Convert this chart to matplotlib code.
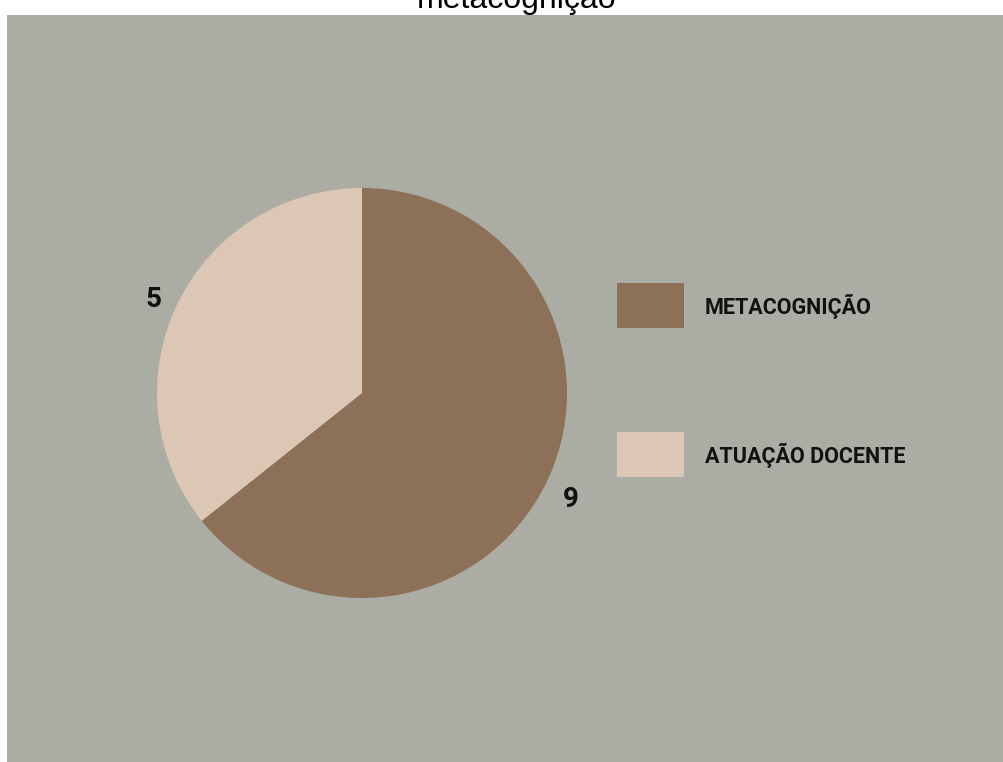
import matplotlib.pyplot as plt
from matplotlib.patches import Rectangle

# donnees
categorias = ["METACOGNIÇÃO", "ATUAÇÃO DOCENTE"]
valores = [9, 5]
cores = ["#8C7058", "#DBC7B3"]
titulo = "metacognição"

fig = plt.figure(figsize=(10.04, 7.62), dpi=100)
fig.patch.set_facecolor("white")

# panneau gris (coordonnees en pixels, y vers le haut)
ax = fig.add_axes([7 / 1004, 0, 1 - 7 / 1004, (762 - 15) / 762])
ax.set_facecolor("#ABACA4")

H = 762
cx, cy, r = 362, H - 393, 205
wedges, _ = ax.pie(valores, colors=cores, startangle=90, counterclock=False,
                   center=(cx, cy), radius=r, frame=True)
ax.set_xlim(7, 1004)
ax.set_ylim(0, H - 15)
ax.set_aspect("equal")
ax.set_xticks([])
ax.set_yticks([])
for s in ax.spines.values():
    s.set_visible(False)

# etiquettes des valeurs
pos_val = [(571, 500), (153, 300)]
for v, (x, y) in zip(valores, pos_val):
    ax.text(x, H - y, str(v), fontsize=20, fontweight="bold", family="Roboto",
            ha="center", va="center", color="#111111")

# legende
ys = [306, 455]
for cat, cor, y in zip(categorias, cores, ys):
    ax.add_patch(Rectangle((617, H - y - 22.5), 67, 45, facecolor=cor, edgecolor="none"))
    ax.text(705, H - y, cat, fontsize=15.5, fontweight="bold", family="Roboto",
            ha="left", va="center", color="#111111")

fig.text(517 / 1004, 1 - 8 / 762, titulo, fontsize=23, family="Liberation Sans",
         ha="center", va="baseline", color="black")

fig.savefig("out.png", dpi=100, facecolor="white")
